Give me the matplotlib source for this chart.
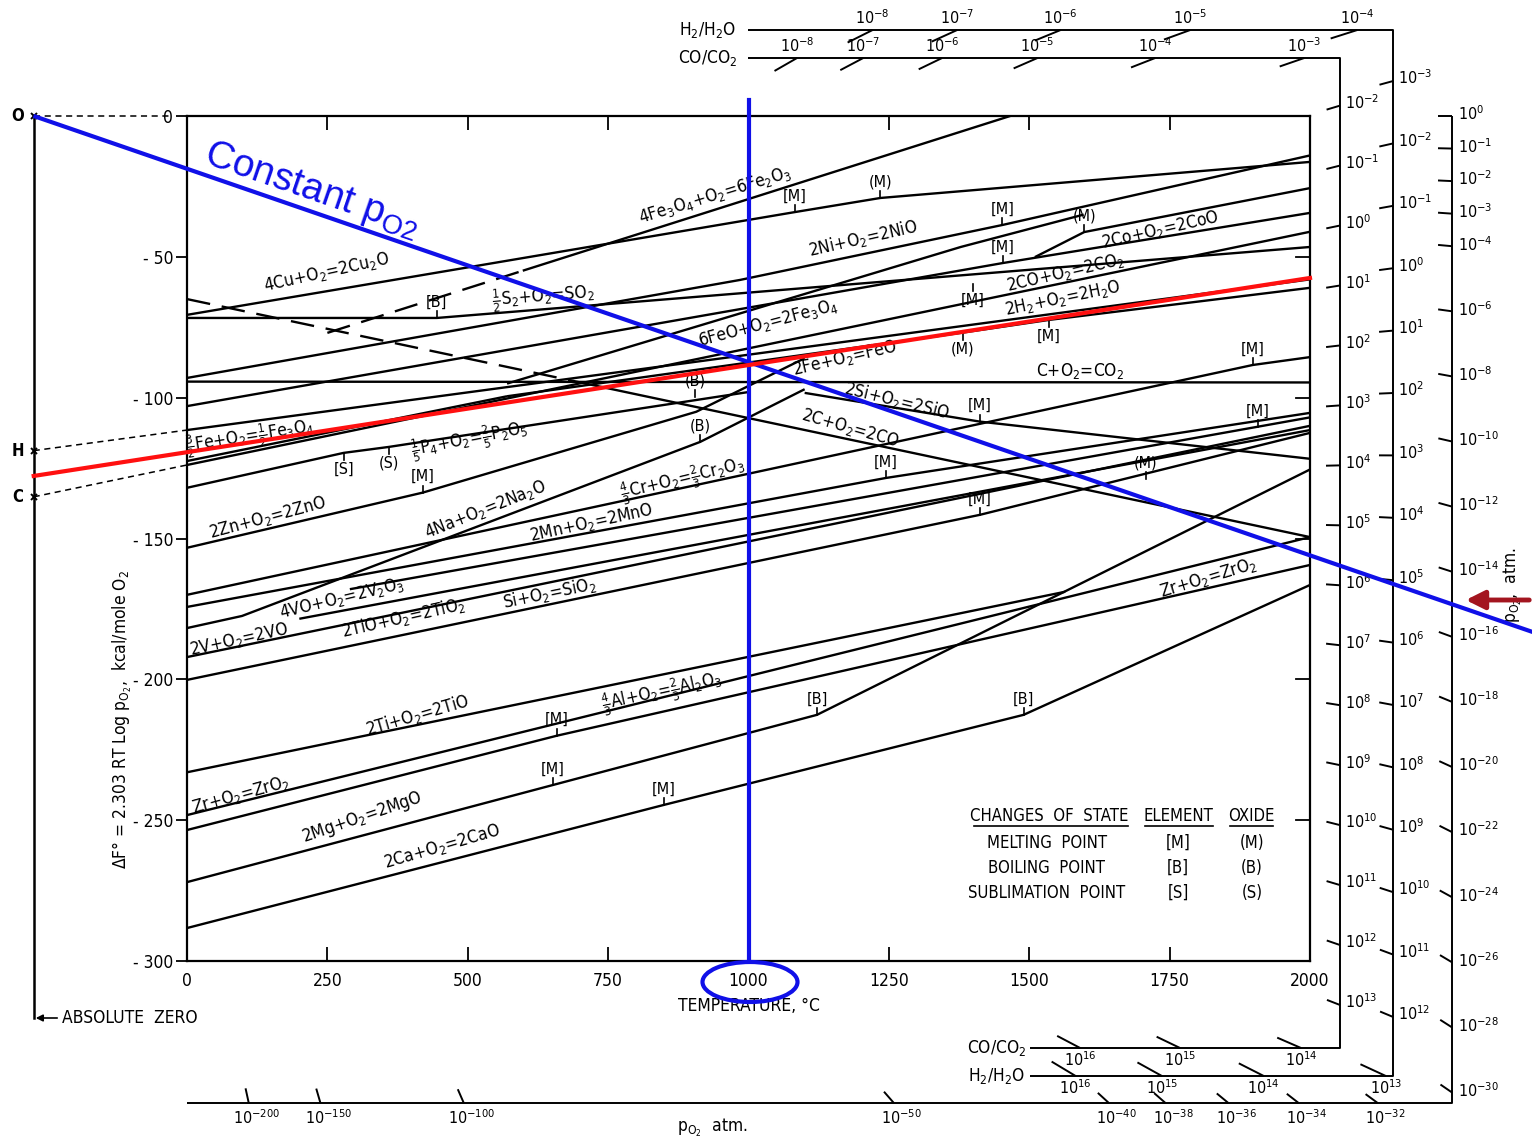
import numpy as np
import matplotlib
matplotlib.use("Agg")
import matplotlib.pyplot as plt
from matplotlib.patches import Ellipse

plt.rcParams['font.family'] = ['DejaVu Sans']
plt.rcParams['font.stretch'] = 'condensed'
plt.rcParams['mathtext.fontset'] = 'custom'
plt.rcParams['mathtext.rm'] = 'DejaVu Sans:stretch=condensed'
plt.rcParams['mathtext.it'] = 'DejaVu Sans:stretch=condensed'
plt.rcParams['mathtext.default'] = 'regular'

# ---- oxidation lines: temperature (deg C) and free energy (kcal / mole O2) ----
fe2o3_T = [250, 600, 1466]
fe2o3_G = [-77.0, -54.8, 0.0]
cu2o_T = [0, 1083, 1235, 2000]
cu2o_G = [-70.6, -34.1, -29.1, -16.3]
nio_T = [0, 985, 1452, 2000]
nio_G = [-93.0, -58.2, -38.7, -14.0]
coo_T = [0, 1453, 2000]
coo_G = [-103.0, -52.2, -34.4]
coo_liq_T = [1510, 1598, 2000]
coo_liq_G = [-50.1, -41.2, -25.6]
so2_T = [0, 445, 2000]
so2_G = [-71.7, -71.7, -46.5]
co_co2_T = [0, 2000]
co_co2_G = [-123.9, -41.1]
h2_h2o_T = [0, 2000]
h2_h2o_G = [-111.5, -58.0]
feo_fe3o4_T = [570, 1378, 1597]
feo_fe3o4_G = [-95.0, -46.5, -35.0]
fe_feo_T = [570, 1378, 1535, 2000]
fe_feo_G = [-99.5, -77.0, -72.4, -61.0]
fe_fe3o4_T = [0, 570]
fe_fe3o4_G = [-122.5, -99.5]
c_co2_T = [0, 2000]
c_co2_G = [-94.3, -94.6]
c_co_T = [0, 2000]
c_co_G = [-65.0, -149.5]
si_sio_T = [1100, 1412, 2000]
si_sio_G = [-98.3, -108.5, -121.7]
p2o5_T = [0, 279, 359, 1000]
p2o5_G = [-132.0, -119.6, -117.5, -98.0]
zno_T = [0, 420, 907, 1100]
zno_G = [-153.3, -133.7, -105.0, -86.0]
na2o_T = [0, 98, 914, 1100]
na2o_G = [-181.8, -177.5, -115.7, -97.0]
cr2o3_T = [0, 1898, 2000]
cr2o3_G = [-170.0, -88.4, -85.6]
mno_T = [0, 1245, 2000]
mno_G = [-174.3, -128.5, -105.4]
v2o3_T = [290, 2000]
v2o3_G = [-168.0, -107.0]
vo_T = [0, 2000]
vo_G = [-192.1, -110.0]
tio2_T = [200, 2000]
tio2_G = [-178.5, -111.5]
sio2_T = [0, 1412, 2000]
sio2_G = [-200.2, -141.6, -112.5]
tio_T = [0, 1564]
tio_G = [-233.0, -168.9]
zro2_T = [0, 2000]
zro2_G = [-248.2, -149.5]
al2o3_T = [0, 659, 2000]
al2o3_G = [-253.5, -220.0, -159.4]
mgo_T = [0, 652, 1122, 2000]
mgo_G = [-272.0, -237.5, -212.6, -125.5]
cao_T = [0, 849, 1490, 2000]
cao_G = [-288.3, -244.6, -212.6, -166.5]

# reaction labels: text, T, dG, text angle (deg)
label_text = [
    "4Fe$_3$O$_4$+O$_2$=6Fe$_2$O$_3$", "4Cu+O$_2$=2Cu$_2$O", "$\\frac{1}{2}$S$_2$+O$_2$=SO$_2$",
    "2Ni+O$_2$=2NiO", "2Co+O$_2$=2CoO", "2CO+O$_2$=2CO$_2$", "2H$_2$+O$_2$=2H$_2$O",
    "6FeO+O$_2$=2Fe$_3$O$_4$", "2Fe+O$_2$=FeO", "C+O$_2$=CO$_2$", "2Si+O$_2$=2SiO",
    "2C+O$_2$=2CO", "$\\frac{3}{2}$Fe+O$_2$=$\\frac{1}{2}$Fe$_3$O$_4$",
    "$\\frac{1}{5}$P$_4$+O$_2$=$\\frac{2}{5}$P$_2$O$_5$", "2Zn+O$_2$=2ZnO", "4Na+O$_2$=2Na$_2$O",
    "$\\frac{4}{3}$Cr+O$_2$=$\\frac{2}{3}$Cr$_2$O$_3$", "2Mn+O$_2$=2MnO", "4VO+O$_2$=2V$_2$O$_3$",
    "2V+O$_2$=2VO", "2TiO+O$_2$=2TiO$_2$", "Si+O$_2$=SiO$_2$", "Zr+O$_2$=ZrO$_2$",
    "2Ti+O$_2$=2TiO", "$\\frac{4}{3}$Al+O$_2$=$\\frac{2}{3}$Al$_2$O$_3$", "Zr+O$_2$=ZrO$_2$",
    "2Mg+O$_2$=2MgO", "2Ca+O$_2$=2CaO",
]
label_T = [940, 249, 634, 1204, 1733, 1564, 1560, 1035, 1172, 1590, 1265, 1181, 112, 504,
           144, 531, 882, 721, 276, 93, 385, 645, 1818, 410, 846, 96, 313, 454]
label_G = [-28.0, -55.4, -64.3, -43.3, -40.5, -55.7, -64.6, -73.5, -85.9, -90.5, -101.2,
           -110.8, -114.0, -115.0, -142.7, -139.9, -129.2, -144.5, -171.1, -186.0, -178.2,
           -169.3, -164.0, -212.6, -204.8, -241.0, -249.2, -259.5]
label_rot = [17, 12.5, 4.5, 12.8, 12.8, 13, 11.6, 14.7, 13, 0, -13.7, -15.9, 9, 11, 15,
             21.8, 13.5, 12.3, 13.5, 12.3, 12.8, 11.6, 16.8, 16, 12.3, 15.5, 18.9, 16.2]

# changes of state: T, dG on the line, symbol, +1 label above / -1 below
state_T = [1083, 1235, 1452, 1598, 1453, 445, 1400, 1382, 1535, 1898, 905, 914, 1412,
           1907, 1708, 1245, 1412, 279, 359, 420, 659, 652, 849, 1122, 1490]
state_G = [-34.1, -29.1, -38.7, -41.2, -52.2, -71.7, -59.6, -77.0, -72.4, -88.4, -99.8,
           -115.7, -108.5, -110.4, -129.0, -128.5, -141.6, -119.6, -117.5, -133.7, -220.0,
           -237.5, -244.6, -212.6, -212.6]
state_sym = ['[M]', '(M)', '[M]', '(M)', '[M]', '[B]', '[M]', '(M)', '[M]', '[M]', '(B)',
             '(B)', '[M]', '[M]', '(M)', '[M]', '[M]', '[S]', '(S)', '[M]', '[M]', '[M]',
             '[M]', '[B]', '[B]']
state_side = [1, 1, 1, 1, 1, 1, -1, -1, -1, 1, 1, 1, 1, 1, 1, 1, 1, -1, -1, 1, 1, 1, 1, 1, 1]

# nomographic scales (exponents)
po2_right = [0, -1, -2, -3, -4, -6, -8, -10, -12, -14, -16, -18, -20, -22, -24, -26, -28, -30]
po2_bottom = [-32, -34, -36, -38, -40, -50, -100, -150, -200]
h2_top = [-8, -7, -6, -5, -4]
h2_right = list(range(-3, 13))
h2_bottom = [13, 14, 15, 16]
co_top = [-8, -7, -6, -5, -4, -3]
co_right = list(range(-2, 14))
co_bottom = [14, 15, 16]

# annotation overlays
const_po2_exp = -15
red_T = [-273, 2000]
red_G = [-127.8, -57.5]
mark_T = 1000

R = 4.575e-3          # 2.303 R in kcal/K
T_ABS = -273.0
SX = 1123 / 2000.0    # px per deg C
SY = 845 / 300.0      # px per kcal


def P(x, y):
    """figure pixel -> data coordinates (for placing layout text)"""
    return (x - 187) / SX, -(y - 116) / SY


fig = plt.figure(figsize=(15.32, 11.43), dpi=100)
ax = fig.add_axes([187 / 1532, 182 / 1143, 1123 / 1532, 845 / 1143])
ax.set_xlim(0, 2000)
ax.set_ylim(-300, 0)

LW = 1.7


def draw(T, G, dash_below=None):
    T = np.asarray(T, float)
    G = np.asarray(G, float)
    if dash_below is None:
        ax.plot(T, G, color='black', lw=LW, solid_capstyle='butt')
        return
    gcut = np.interp(dash_below, T, G)
    lo = T < dash_below
    ax.plot(np.r_[T[lo], dash_below], np.r_[G[lo], gcut], color='black', lw=LW,
            dashes=(10, 5))
    hi = T > dash_below
    ax.plot(np.r_[dash_below, T[hi]], np.r_[gcut, G[hi]], color='black', lw=LW)


draw(fe2o3_T, fe2o3_G, dash_below=600)
draw(c_co_T, c_co_G, dash_below=690)
for T, G in [(cu2o_T, cu2o_G), (nio_T, nio_G), (coo_T, coo_G), (coo_liq_T, coo_liq_G),
             (so2_T, so2_G), (co_co2_T, co_co2_G), (h2_h2o_T, h2_h2o_G),
             (feo_fe3o4_T, feo_fe3o4_G), (fe_feo_T, fe_feo_G), (fe_fe3o4_T, fe_fe3o4_G),
             (c_co2_T, c_co2_G), (si_sio_T, si_sio_G), (p2o5_T, p2o5_G), (zno_T, zno_G),
             (na2o_T, na2o_G), (cr2o3_T, cr2o3_G), (mno_T, mno_G), (v2o3_T, v2o3_G),
             (vo_T, vo_G), (tio2_T, tio2_G), (sio2_T, sio2_G), (tio_T, tio_G),
             (zro2_T, zro2_G), (al2o3_T, al2o3_G), (mgo_T, mgo_G), (cao_T, cao_G)]:
    draw(T, G)

for txt, T, G, rot in zip(label_text, label_T, label_G, label_rot):
    ax.text(T, G, txt, fontsize=12.5, rotation=rot, ha='center', va='center',
            rotation_mode='anchor')

for T, G, s, side in zip(state_T, state_G, state_sym, state_side):
    ax.plot([T, T], [G, G + side * 7 / SY], color='black', lw=1.2)
    ax.text(T, G + side * 16 / SY, s, fontsize=11.5, ha='center', va='center')

# frame and ticks
for sp in ax.spines.values():
    sp.set_linewidth(1.6)
ax.set_xticks(range(0, 2001, 250))
ax.set_xticklabels([str(v) for v in range(0, 2001, 250)])
ax.tick_params(axis='x', direction='in', top=True, length=10, width=1.3, labelsize=12.5,
               pad=8)
yt = list(range(0, -301, -50))
ax.set_yticks(yt)
ax.set_yticklabels(['0'] + ['- %d' % -v for v in yt[1:]])
ax.tick_params(axis='y', direction='out', length=8, width=1.3, labelsize=12.5, pad=2)
for v in yt[1:-1]:
    ax.plot([2000 - 14 / SX, 2000], [v, v], color='black', lw=1.3)

ax.text(1000, -300 - 45 / SY, "TEMPERATURE, °C", fontsize=12.5, ha='center', va='center')
ax.text(*P(122, 720), "ΔF° = 2.303 RT Log p$_{O_2}$,  kcal/mole O$_2$", fontsize=12.5,
        rotation=90, ha='center', va='center')

kw = dict(color='black', lw=1.4, clip_on=False, solid_capstyle='butt')


def ray_tick(T, G, T0, G0, length):
    dx = (T - T0) * SX
    dy = (G - G0) * SY
    n = np.hypot(dx, dy)
    ax.plot([T, T - dx / n * length / SX], [G, G - dy / n * length / SY], **kw)


def sup(k):
    return "10$^{%d}$" % k


# absolute zero line with O, H, C poles
A_H_slope = (h2_h2o_G[1] - h2_h2o_G[0]) / (h2_h2o_T[1] - h2_h2o_T[0])
A_H = h2_h2o_G[0] - A_H_slope * (h2_h2o_T[0] + 273)
A_C_slope = (co_co2_G[1] - co_co2_G[0]) / (co_co2_T[1] - co_co2_T[0])
A_C = co_co2_G[0] - A_C_slope * (co_co2_T[0] + 273)

ax.plot([T_ABS, T_ABS], [0, P(0, 1018)[1]], color='black', lw=1.8, clip_on=False)
for g, name in [(0.0, 'O'), (A_H, 'H'), (A_C, 'C')]:
    ax.plot(T_ABS, g, marker='x', ms=5, mew=1.4, color='black', clip_on=False)
    ax.text(P(18, 0)[0], g, name, fontsize=12, fontweight='bold', ha='center', va='center')
ax.plot([T_ABS, -30], [0, 0], color='black', lw=1.1, ls=(0, (4, 3)), clip_on=False)
ax.plot([T_ABS, 0], [A_H, h2_h2o_G[0]], color='black', lw=1.1, ls=(0, (4, 3)), clip_on=False)
ax.plot([T_ABS, 0], [A_C, co_co2_G[0]], color='black', lw=1.1, ls=(0, (4, 3)), clip_on=False)
ax.annotate("", xy=P(33, 1018), xytext=P(60, 1018),
            arrowprops=dict(arrowstyle='-|>', color='black', lw=1.2, mutation_scale=10),
            annotation_clip=False)
ax.text(*P(62, 1018), "ABSOLUTE  ZERO", fontsize=12.5, ha='left', va='center')

# p_O2 scale
T_PO2 = P(1452, 0)[0]
G_PO2 = P(0, 1103)[1]
ax.plot([0, T_PO2, T_PO2], [G_PO2, G_PO2, 0], **kw)
for k in po2_right:
    g = R * (T_PO2 + 273) * k
    ray_tick(T_PO2, g, T_ABS, 0, 14)
    ax.text(T_PO2 + 6 / SX, g + 2 / SY, sup(k), fontsize=11.5, ha='left', va='center')
for k in po2_bottom:
    t = G_PO2 / (R * k) - 273
    ray_tick(t, G_PO2, T_ABS, 0, 15)
    ax.text(t + 8 / SX, G_PO2 - 15 / SY, sup(k), fontsize=11.5, ha='center', va='center')
ax.text(*P(712, 1128), "p$_{O_2}$  atm.", fontsize=12.5, ha='center', va='center')
ax.text(*P(1513, 585), "p$_{O_2}$,  atm.", fontsize=12.5, rotation=90, ha='center',
        va='center')


# ratio scales (H2/H2O and CO/CO2)
def ratio_scale(A, B, x_left, x_corner, y_top, y_bot, x_bot_left, top_ks, right_ks,
                bot_ks, name, long_tick):
    t_left = P(x_left, 0)[0]
    t_c = P(x_corner, 0)[0]
    g_top = P(0, y_top)[1]
    g_bot = P(0, y_bot)[1]
    t_bl = P(x_bot_left, 0)[0]
    ax.plot([t_left, t_c, t_c, t_bl], [g_top, g_top, g_bot, g_bot], **kw)
    for k in top_ks:
        t = (g_top - A) / (B - 2 * R * k) - 273
        ray_tick(t, g_top, T_ABS, A, long_tick)
        ax.text(t, g_top + 12 / SY, sup(k), fontsize=11.5, ha='center', va='center')
    for k in right_ks:
        g = A + (B - 2 * R * k) * (t_c + 273)
        ray_tick(t_c, g, T_ABS, A, 14)
        ax.text(t_c + 5 / SX, g + 3 / SY, sup(k), fontsize=11.5, ha='left', va='center')
    for k in bot_ks:
        t = (g_bot - A) / (B - 2 * R * k) - 273
        ray_tick(t, g_bot, T_ABS, A, long_tick)
        ax.text(t, g_bot - 12 / SY, sup(k), fontsize=11.5, ha='center', va='center')
    ax.text(t_left - 40 / SX, g_top, name, fontsize=12.5, ha='center', va='center')
    ax.text(t_bl - 33 / SX, g_bot, name, fontsize=12.5, ha='center', va='center')


ratio_scale(A_H, A_H_slope, 748, 1393, 30, 1076, 1030, h2_top, h2_right, h2_bottom,
            "H$_2$/H$_2$O", 28)
ratio_scale(A_C, A_C_slope, 748, 1340, 58, 1048, 1030, co_top, co_right, co_bottom,
            "CO/CO$_2$", 26)

# changes-of-state key
key_cols = [(1049, "CHANGES  OF  STATE"), (1178, "ELEMENT"), (1251, "OXIDE")]
for x, s in key_cols:
    ax.text(*P(x, 816), s, fontsize=12, ha='center', va='center')
ax.plot([P(974, 0)[0], P(1128, 0)[0]], [P(0, 826)[1]] * 2, color='black', lw=1.2)
ax.plot([P(1145, 0)[0], P(1213, 0)[0]], [P(0, 826)[1]] * 2, color='black', lw=1.2)
ax.plot([P(1230, 0)[0], P(1273, 0)[0]], [P(0, 826)[1]] * 2, color='black', lw=1.2)
rows = [("MELTING  POINT", "[M]", "(M)"), ("BOILING  POINT", "[B]", "(B)"),
        ("SUBLIMATION  POINT", "[S]", "(S)")]
for i, (a, b, c) in enumerate(rows):
    y = 843 + 25 * i
    ax.text(*P(1047, y), a, fontsize=12, ha='center', va='center')
    ax.text(*P(1178, y), b, fontsize=12, ha='center', va='center')
    ax.text(*P(1252, y), c, fontsize=12, ha='center', va='center')

# overlays: constant p_O2 line, 1000 C marker, red line
BLUE = '#1010e8'
tt = np.array([-270.0, P(1532, 0)[0]])
ax.plot(tt, R * (tt + 273) * const_po2_exp, color=BLUE, lw=3, clip_on=False, zorder=6)
ax.plot([mark_T, mark_T], [P(0, 100)[1], -300], color=BLUE, lw=3, clip_on=False, zorder=6)
ax.plot(red_T, red_G, color='#ff1010', lw=3, clip_on=False, zorder=6)
ax.add_patch(Ellipse(P(750, 982), 95 / SX, 40 / SY, fill=False, ec=BLUE, lw=3,
                     clip_on=False, zorder=6))
ax.text(*P(312, 190), "Constant p$_{O2}$", color=BLUE, fontsize=28, rotation=-19,
        ha='center', va='center', rotation_mode='anchor',
        family=['Liberation Sans', 'DejaVu Sans'], fontstretch='normal', zorder=6)
ax.annotate("", xy=P(1463, 600), xytext=P(1532, 600),
            arrowprops=dict(arrowstyle='-|>', color='#a3151f', lw=3.5, mutation_scale=28),
            annotation_clip=False, zorder=7)

fig.savefig("out.png", dpi=100, facecolor='white')
